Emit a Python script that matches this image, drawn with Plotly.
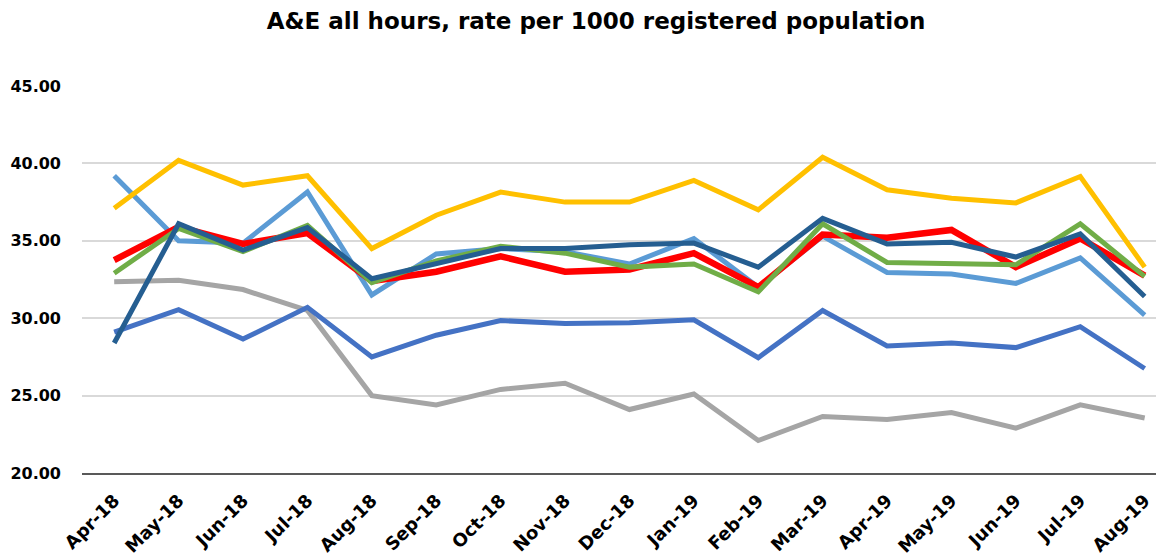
import plotly.graph_objects as go

months = ["Apr-18", "May-18", "Jun-18", "Jul-18", "Aug-18", "Sep-18", "Oct-18", "Nov-18",
          "Dec-18", "Jan-19", "Feb-19", "Mar-19", "Apr-19", "May-19", "Jun-19", "Jul-19", "Aug-19"]

grey_series = [32.35, 32.45, 31.85, 30.5, 25.0, 24.4, 25.4, 25.8, 24.1, 25.1, 22.1, 23.65, 23.45, 23.9, 22.9, 24.4, 23.55]
mid_blue_series = [29.1, 30.55, 28.65, 30.7, 27.5, 28.9, 29.85, 29.65, 29.7, 29.9, 27.45, 30.5, 28.2, 28.4, 28.1, 29.45, 26.75]
light_blue_series = [39.2, 35.0, 34.85, 38.15, 31.5, 34.15, 34.5, 34.3, 33.5, 35.15, 32.0, 35.3, 32.95, 32.85, 32.25, 33.9, 30.2]
yellow_series = [37.1, 40.2, 38.6, 39.2, 34.5, 36.65, 38.15, 37.5, 37.5, 38.9, 37.0, 40.4, 38.3, 37.75, 37.45, 39.15, 33.3]
red_series = [33.75, 35.9, 34.8, 35.5, 32.4, 33.0, 34.0, 33.0, 33.15, 34.2, 32.0, 35.4, 35.2, 35.7, 33.3, 35.15, 32.75]
green_series = [32.9, 35.8, 34.3, 36.0, 32.3, 33.7, 34.65, 34.2, 33.3, 33.5, 31.7, 36.1, 33.6, 33.5, 33.45, 36.1, 32.7]
dark_blue_series = [28.4, 36.1, 34.4, 35.85, 32.55, 33.5, 34.5, 34.5, 34.75, 34.85, 33.3, 36.45, 34.8, 34.9, 33.95, 35.45, 31.4]

series = [
    ("Series 7", grey_series, "#A5A5A5", 5),
    ("Series 6", mid_blue_series, "#4472C4", 5),
    ("Series 5", light_blue_series, "#5B9BD5", 5),
    ("Series 4", yellow_series, "#FFC000", 5),
    ("Series 3", red_series, "#FF0000", 6.5),
    ("Series 2", green_series, "#70AD47", 5),
    ("Series 1", dark_blue_series, "#255E91", 5),
]

fig = go.Figure()
for name, vals, col, w in series:
    fig.add_trace(go.Scatter(x=months, y=vals, name=name, mode="lines",
                             line=dict(color=col, width=w)))

font_family = "'DejaVu Sans', sans-serif"
fig.update_layout(
    width=1156, height=549,
    margin=dict(l=74, r=0, t=78, b=84, autoexpand=False),
    paper_bgcolor="white", plot_bgcolor="white",
    showlegend=False,
    title=dict(text="<b>A&amp;E all hours, rate per 1000 registered population</b>",
               x=0.5087, xref="container", xanchor="center",
               y=0.976, yref="container", yanchor="middle",
               font=dict(family=font_family, size=23, color="#000000")),
    font=dict(family=font_family, color="#000000"),
)
fig.update_xaxes(type="category", range=[-0.5, 16.3], showgrid=False,
                 showline=True, linecolor="#595959", linewidth=2,
                 tickangle=-45, ticks="", automargin=False,
                 ticklabelstandoff=8,
                 tickfont=dict(family=font_family, size=18, color="#000000", weight="bold"))
fig.update_yaxes(range=[20, 45], dtick=5, tickformat=".2f",
                 showgrid=True, gridcolor="#D9D9D9", gridwidth=2,
                 zeroline=False, showline=False, ticks="", automargin=False,
                 ticklabelstandoff=20,
                 tickfont=dict(family=font_family, size=16, color="#000000", weight="bold"))

fig.write_html("out.html")
